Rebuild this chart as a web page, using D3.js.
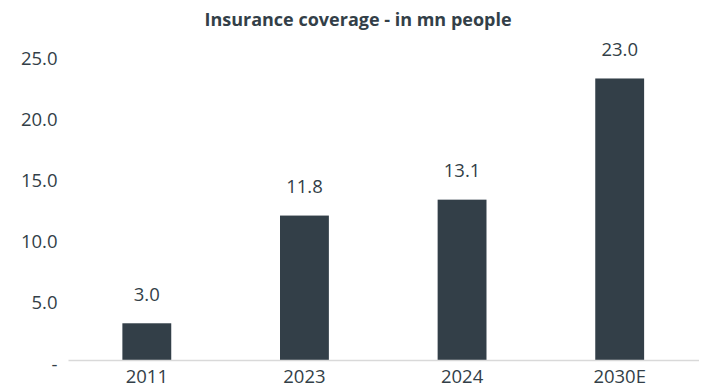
<!DOCTYPE html>
<html>
<head>
<meta charset="utf-8">
<script src="https://cdn.jsdelivr.net/npm/d3@7"></script>
<style>
  html, body { margin: 0; padding: 0; background: #fff; }
  svg { display: block; font-family: "Open Sans", "Noto Sans", sans-serif; }
</style>
</head>
<body>
<svg id="chart" width="706" height="387"></svg>
<script>
// Insurance coverage, millions of people
const categories = ["2011", "2023", "2024", "2030E"];
const coverage = [3.0, 11.8, 13.1, 23.0];
const yTicks = [0, 5, 10, 15, 20, 25];
const title = "Insurance coverage - in mn people";

const ink = "#333f48";
const fontSize = 18.5;
const svg = d3.select("#chart");

const x = d3.scaleBand()
  .domain(categories)
  .range([68, 698.5])
  .paddingInner(0.69)
  .paddingOuter(0.345);

const y = d3.scaleLinear()
  .domain([0, 25])
  .range([360, 54]);

// Title
svg.append("text")
  .attr("x", 358)
  .attr("y", 26)
  .attr("text-anchor", "middle")
  .attr("font-size", 18)
  .attr("font-weight", 700)
  .attr("fill", ink)
  .text(title);

// Y axis: labels only, zero shown as a dash
const yAxis = d3.axisLeft(y)
  .tickValues(yTicks)
  .tickSize(0)
  .tickPadding(0)
  .tickFormat(d => d === 0 ? "-" : d3.format(".1f")(d));

const yg = svg.append("g")
  .attr("transform", "translate(57.5,0)")
  .call(yAxis);
yg.select(".domain").remove();
yg.selectAll("text")
  .attr("dy", 0)
  .attr("y", 10)
  .attr("font-size", fontSize)
  .attr("font-family", "\"Open Sans\", \"Noto Sans\", sans-serif")
  .attr("fill", ink);

// Bars
svg.append("g")
  .selectAll("rect")
  .data(categories.map((c, i) => ({ c, v: coverage[i] })))
  .join("rect")
  .attr("x", d => x(d.c))
  .attr("y", d => y(d.v))
  .attr("width", x.bandwidth())
  .attr("height", d => y(0) - y(d.v))
  .attr("fill", ink);

// X axis: baseline and category labels
const xAxis = d3.axisBottom(x).tickSize(0).tickPadding(0);
const xg = svg.append("g")
  .attr("transform", `translate(0,${y(0)})`)
  .call(xAxis);
xg.select(".domain")
  .attr("stroke", "#d9d9d9")
  .attr("stroke-width", 1.3);
xg.selectAll("text")
  .attr("y", 23.3)
  .attr("dy", 0)
  .attr("font-size", fontSize)
  .attr("font-family", "\"Open Sans\", \"Noto Sans\", sans-serif")
  .attr("fill", ink);

// Value labels above bars
svg.append("g")
  .selectAll("text")
  .data(categories.map((c, i) => ({ c, v: coverage[i] })))
  .join("text")
  .attr("x", d => x(d.c) + x.bandwidth() / 2)
  .attr("y", d => y(d.v) - 22.4)
  .attr("text-anchor", "middle")
  .attr("font-size", fontSize)
  .attr("fill", ink)
  .text(d => d3.format(".1f")(d.v));
</script>
</body>
</html>
